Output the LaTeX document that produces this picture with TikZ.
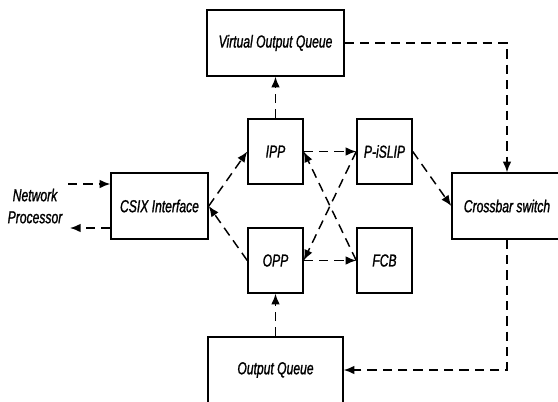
\documentclass[tikz,border=0pt]{standalone}
\usepackage{fontspec}
\setmainfont{Liberation Sans}[ItalicFeatures={FakeStretch=0.7, FakeBold=1.2}]
\usetikzlibrary{arrows.meta}

\begin{document}
\begin{tikzpicture}[x=0.75pt, y=-0.75pt, font=\fontsize{13}{16.5}\selectfont\itshape]
            \tikzset{myblk/.style={rectangle, draw=black, line width=1.1pt, inner sep=0pt,
                minimum height=49.5pt, text centered},
                mylink/.style={line width=1.1pt, dash pattern=on 7pt off 4.5pt,
                arrows={-Latex[length=8pt, width=6.5pt]}}}
        \useasboundingbox (0,0) rectangle (558,401);
        \clip (0,0) rectangle (558,401);

        \node[myblk, minimum width=102.75pt] (V) at (275.5,43) {Virtual Output Queue};
        \node[myblk, minimum width=41.25pt, minimum height=48.75pt] (I) at (275.5,151.5) {IPP};
        \node[myblk, minimum width=41.25pt, minimum height=48.75pt] (P) at (384.5,151.5) {P-iSLIP};
        \node[myblk, minimum width=41.25pt, minimum height=48.75pt] (O) at (275.5,260.5) {OPP};
        \node[myblk, minimum width=41.25pt, minimum height=48.75pt] (F) at (384.5,260.5) {FCB};
        \node[myblk, minimum width=72.75pt] (C) at (159.5,206) {CSIX Interface};
        \node[myblk, minimum width=101.25pt] (Q) at (275.5,370) {Output Queue};
        \node[myblk, minimum width=82.5pt] (X) at (507,206) {Crossbar switch};
        \node[align=center] (N) at (35,206) {Network \\ Processor};

        \coordinate (ni) at (68,184);
        \coordinate (no) at (70,228);

        \draw[mylink] (ni) -- (ni -| C.west);
        \draw[mylink] (no -| C.west) -- (no);
        \draw[mylink] (C.east) -- (I.west);
        \draw[mylink] (O.west) -- (C.east);
        \draw[mylink] (I.north) -- (V.south);
        \draw[mylink] (Q.north) -- (O.south);
        \draw[mylink] (I.east) -- (P.west);
        \draw[mylink] (O.east) -- (F.west);
        \draw[mylink] (P.west) -- (O.east);
        \draw[mylink] (F.west) -- (I.east);
        \draw[mylink] (P.east) -- (X.west);
        \draw[mylink] (V.east) -| (X.north);
        \draw[mylink] (X.south) |- (Q.east);

        \end{tikzpicture}
\end{document}
